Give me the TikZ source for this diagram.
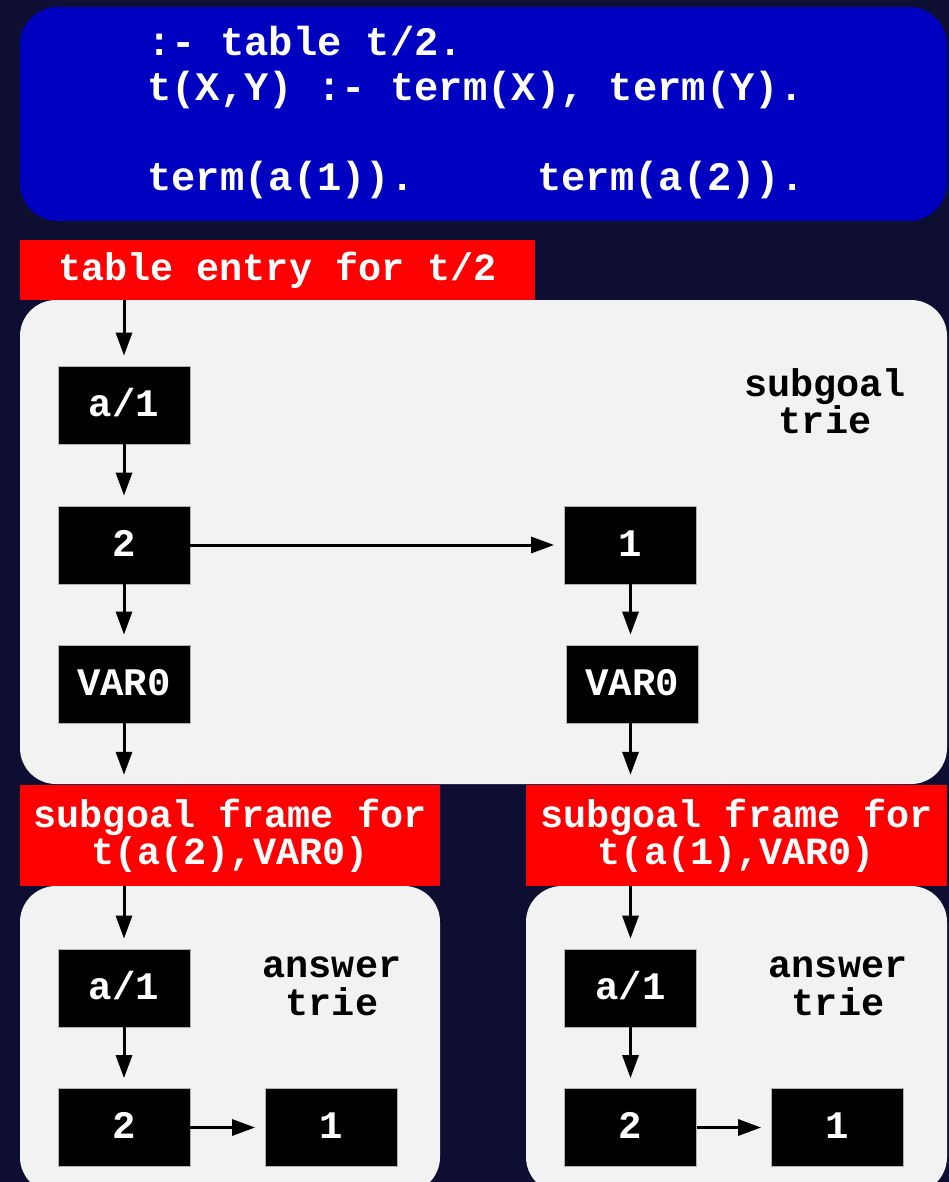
\documentclass[tikz,border=0pt]{standalone}
\usepackage{fontspec}
\setmonofont{Liberation Mono}
\usetikzlibrary{arrows.meta}
\definecolor{bgnavy}{RGB}{14,14,50}
\definecolor{codeblue}{RGB}{0,0,192}
\definecolor{triegrey}{RGB}{242,242,242}
\definecolor{labelred}{RGB}{255,0,0}
\begin{document}
\begin{tikzpicture}[x=1pt,y=-1pt,
  code/.style={font=\ttfamily\bfseries\fontsize{40.5}{46}\selectfont, text=white, anchor=base west, inner sep=0pt},
  cell/.style={fill=black, draw=gray!60, line width=0.8pt, minimum width=132pt, minimum height=78pt, inner sep=0pt, text=white, text height=22pt, text depth=0pt, font=\ttfamily\bfseries\fontsize{39}{38}\selectfont},
  redbox/.style={fill=labelred, inner sep=0pt, text=white, align=center, font=\ttfamily\bfseries\fontsize{38.5}{40}\selectfont},
  triebox/.style={fill=triegrey, rounded corners=36pt},
  lbl/.style={anchor=base, inner sep=0pt, text=black, font=\ttfamily\bfseries\fontsize{38.5}{38}\selectfont},
  arr/.style={line width=3pt, -{Triangle[length=23pt,width=16pt]}, shorten >=10pt}]
\useasboundingbox (0,0) rectangle (949,1182);
\clip (0,0) rectangle (949,1182);
\fill[bgnavy] (0,0) rectangle (949,1182);
% code box
\fill[codeblue, rounded corners=38pt] (20,7) rectangle (947,221);
\node[code] (c1) at (147,56) {:- table t/2.};
\node[code] (c2) at (147,101) {t(X,Y) :- term(X), term(Y).};
\node[code] (c3) at (147,191) {term(a(1)).};
\node[code] (c4) at (537,191) {term(a(2)).};
% trie boxes
\fill[triebox] (20,300) rectangle (947,784);
\fill[triebox] (20,886) rectangle (440,1193);
\fill[triebox] (526,886) rectangle (947,1193);
% red labels
\node[redbox, minimum width=515pt, minimum height=60pt] (tbl) at (277.5,270) {table entry for t/2};
\node[redbox, minimum width=420pt, minimum height=101pt] (frameL) at (230,835.5) {\raisebox{-3pt}{subgoal frame for}\\t(a(2),VAR0)};
\node[redbox, minimum width=421pt, minimum height=101pt] (frameR) at (736.5,835.5) {\raisebox{-3pt}{subgoal frame for}\\t(a(1),VAR0)};
% subgoal trie
\node[cell] (a1) at (124,405) {a/1};
\node[cell] (n2) at (124,545) {2};
\node[cell] (n1) at (630.5,545) {1};
\node[cell] (vl) at (124,684) {VAR0};
\node[cell] (vr) at (632,684) {VAR0};
\node[lbl] (sg1) at (825,396) {subgoal};
\node[lbl] (sg2) at (825,433) {trie};
% answer tries
\node[cell] (la1) at (124,988) {a/1};
\node[cell] (l2) at (124,1127.5) {2};
\node[cell] (l1) at (331.5,1127.5) {1};
\node[lbl] (la) at (332,977) {answer};
\node[lbl] (lt) at (332,1015) {trie};
\node[cell] (ra1) at (630.5,988) {a/1};
\node[cell] (r2) at (630.5,1127.5) {2};
\node[cell] (r1) at (837.5,1127.5) {1};
\node[lbl] (ra) at (838,977) {answer};
\node[lbl] (rt) at (838,1015) {trie};
% connectors
\draw[arr] (tbl.south -| a1.north) -- (a1);
\draw[arr] (a1) -- (n2);
\draw[arr] (n2) -- (n1);
\draw[arr] (n2) -- (vl);
\draw[arr] (n1) -- (n1 |- vr.north);
\draw[arr] (vl) -- (frameL.north -| vl);
\draw[arr] (n1 |- vr.south) -- (frameR.north -| n1);
\draw[arr] (frameL.south -| la1) -- (la1);
\draw[arr] (la1) -- (l2);
\draw[arr] (l2) -- (l1);
\draw[arr] (frameR.south -| ra1) -- (ra1);
\draw[arr] (ra1) -- (r2);
\draw[arr] (r2) -- (r1);
\end{tikzpicture}
\end{document}
